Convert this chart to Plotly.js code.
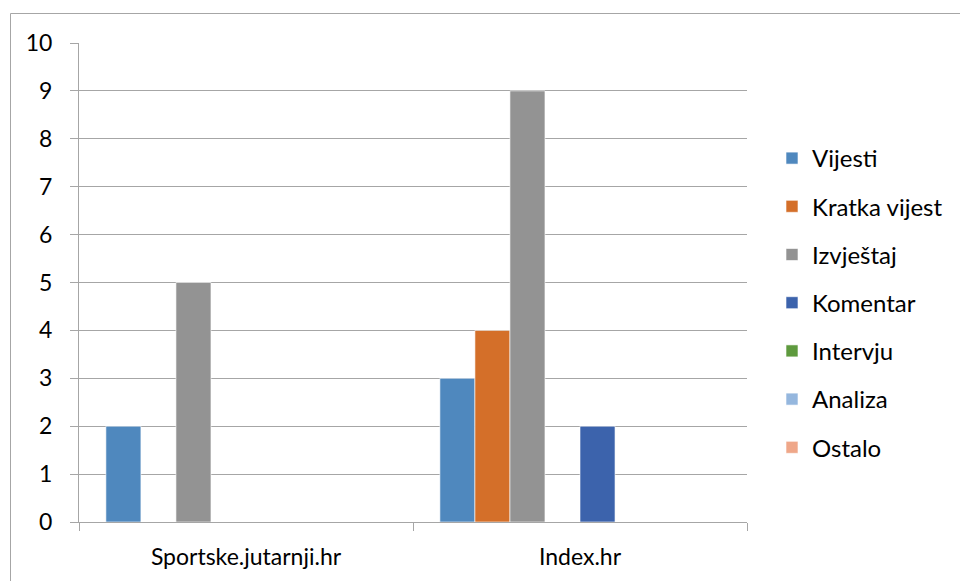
<!DOCTYPE html>
<html>
<head>
<meta charset="utf-8">
<script src="https://cdn.plot.ly/plotly-3.0.1.min.js"></script>
<style>
  html, body { margin: 0; padding: 0; background: #fff; }
  #chart { width: 960px; height: 581px; }
</style>
</head>
<body>
<div id="chart"></div>
<script>
const categories = ["Sportske.jutarnji.hr", "Index.hr"];
const seriesNames = ["Vijesti", "Kratka vijest", "Izvještaj", "", "Komentar", "Intervju", "Analiza", "Ostalo"];
const vijesti = [2, 3];
const kratkaVijest = [0, 4];
const izvjestaj = [5, 9];
const unnamed = [0, 0];
const komentar = [0, 2];
const intervju = [0, 0];
const analiza = [0, 0];
const ostalo = [0, 0];
const seriesValues = [vijesti, kratkaVijest, izvjestaj, unnamed, komentar, intervju, analiza, ostalo];
const colors = ["#4F88BE", "#D46F29", "#939393", "#FFFFFF", "#3C63AC", "#5E9A3E", "#95B7DE", "#EFA789"];
const yTicks = [0, 1, 2, 3, 4, 5, 6, 7, 8, 9, 10];

const FONT = "Lato, 'Open Sans', sans-serif";

const traces = seriesNames.map((name, i) => ({
  type: "bar",
  name: name,
  x: categories,
  y: seriesValues[i],
  marker: { color: colors[i], line: { color: "#FFFFFF", width: 0.6 } },
  legendgroup: "g" + i,
  showlegend: name !== "",
  hoverinfo: "x+y+name"
}));

const L = 79, R = 747, T = 43, B = 522;
const pw = R - L, ph = B - T;
const px = v => (v - L) / pw;
const py = v => (B - v) / ph;

const layout = {
  width: 960,
  height: 581,
  margin: { l: L, r: 960 - R, t: T, b: 581 - B, pad: 0 },
  paper_bgcolor: "#FFFFFF",
  plot_bgcolor: "#FFFFFF",
  barmode: "group",
  bargap: 0.161,
  bargroupgap: 0,
  font: { family: FONT, size: 23, color: "#000000" },
  xaxis: {
    type: "category",
    showline: true,
    linecolor: "#A6A6A6",
    linewidth: 1,
    showgrid: false,
    ticks: "outside",
    tickson: "boundaries",
    ticklen: 8,
    tickcolor: "#A6A6A6",
    ticklabelstandoff: 14,
    tickfont: { family: FONT, size: 23, color: "#000000" },
    zeroline: false,
    fixedrange: true
  },
  yaxis: {
    range: [0, 10],
    tickvals: yTicks,
    ticktext: yTicks.map(String),
    showline: true,
    linecolor: "#A6A6A6",
    linewidth: 1,
    showgrid: true,
    gridcolor: "#A6A6A6",
    gridwidth: 1,
    ticks: "outside",
    ticklen: 8,
    tickcolor: "#A6A6A6",
    ticklabelstandoff: 13,
    tickfont: { family: FONT, size: 23, color: "#000000" },
    zeroline: false,
    fixedrange: true
  },
  legend: {
    x: px(772),
    xanchor: "left",
    y: py(136),
    yanchor: "top",
    traceorder: "grouped",
    tracegroupgap: 14,
    font: { family: FONT, size: 24, color: "#000000" },
    bgcolor: "rgba(0,0,0,0)",
    borderwidth: 0,
    itemwidth: 30
  },
  shapes: [
    {
      type: "rect", xref: "paper", yref: "paper",
      x0: px(10.5), x1: px(1000), y0: py(13.5), y1: py(620),
      line: { color: "#A6A6A6", width: 1 },
      fillcolor: "rgba(0,0,0,0)",
      layer: "below"
    }
  ],
  showlegend: true
};

Plotly.newPlot("chart", traces, layout, { displayModeBar: false, staticPlot: true });
</script>
</body>
</html>
